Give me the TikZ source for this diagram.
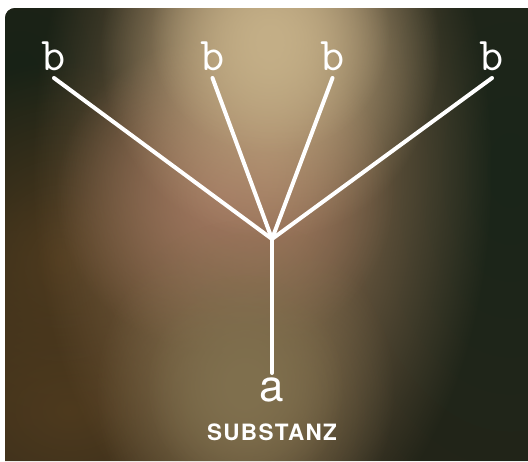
\documentclass[tikz,border=0pt]{standalone}
\usepackage{fontspec}
\setsansfont{TeX Gyre Heros}
\usetikzlibrary{positioning,fadings}

\definecolor{bgbase}{RGB}{40,36,24}
\definecolor{bgdark}{RGB}{24,34,22}
\definecolor{bggreen}{RGB}{26,38,26}
\definecolor{bgtan}{RGB}{160,125,92}
\definecolor{bglight}{RGB}{196,175,135}
\definecolor{bgpink}{RGB}{160,118,95}
\definecolor{bgolive}{RGB}{128,112,78}
\definecolor{bgbrown}{RGB}{78,58,30}

\tikzfading[name=softglow, inner color=transparent!0, outer color=transparent!100]

\tikzset{
  branch/.style={draw=white, line width=4pt, line cap=round},
  leaf/.style={text=white, font=\fontsize{47}{47}\selectfont\ttfamily,
    inner xsep=0pt, inner ysep=7pt, anchor=south},
  root/.style={text=white, font=\fontsize{44}{44}\selectfont\sffamily,
    inner ysep=5pt, anchor=north},
  glow/.style={path fading=softglow},
}

\begin{document}
\begin{tikzpicture}[x=1pt,y=-1pt]
  \useasboundingbox (0,0) rectangle (528,461);
  % blurred backdrop
  \begin{scope}
    \clip (5,461) [rounded corners=10pt] -- (5,8) [sharp corners] -- (528,8) -- (528,461) -- cycle;
    \fill[bgbase] (0,0) rectangle (528,461);
    \fill[glow,bggreen] (510,170) ellipse (320pt and 520pt);
    \fill[glow,bgdark] (20,70) ellipse (300pt and 320pt);
    \fill[glow,bgbrown] (70,410) ellipse (300pt and 220pt);
    \fill[glow,bgbrown] (60,260) ellipse (180pt and 200pt);
    \fill[glow,bgtan] (262,170) ellipse (230pt and 400pt);
    \fill[glow,bgpink] (225,195) ellipse (170pt and 160pt);
    \fill[glow,bglight] (270,50) ellipse (170pt and 190pt);
    \fill[glow,bglight] (270,35) ellipse (120pt and 120pt);
    \fill[glow,bgolive] (245,390) ellipse (150pt and 170pt);
    \fill[glow,bgolive] (245,385) ellipse (100pt and 110pt);
  \end{scope}

  \coordinate (hub) at (272,239);
  \node[leaf] (b1) at (54,78) {b};
  \node[leaf] (b2) at (212.5,78) {b};
  \node[leaf] (b3) at (332.5,78) {b};
  \node[leaf] (b4) at (492,78) {b};
  \node[root] (a) at (272,373) {a};
  \node[text=white,font=\fontsize{22.5}{22.5}\selectfont\sffamily\bfseries\addfontfeatures{LetterSpace=6}] (sub) at (272,432) {SUBSTANZ};

  \draw[branch] (hub) -- (b1.south);
  \draw[branch] (hub) -- (b2.south);
  \draw[branch] (hub) -- (b3.south);
  \draw[branch] (hub) -- (b4.south);
  \draw[branch] (hub) -- (a.north);
\end{tikzpicture}
\end{document}
